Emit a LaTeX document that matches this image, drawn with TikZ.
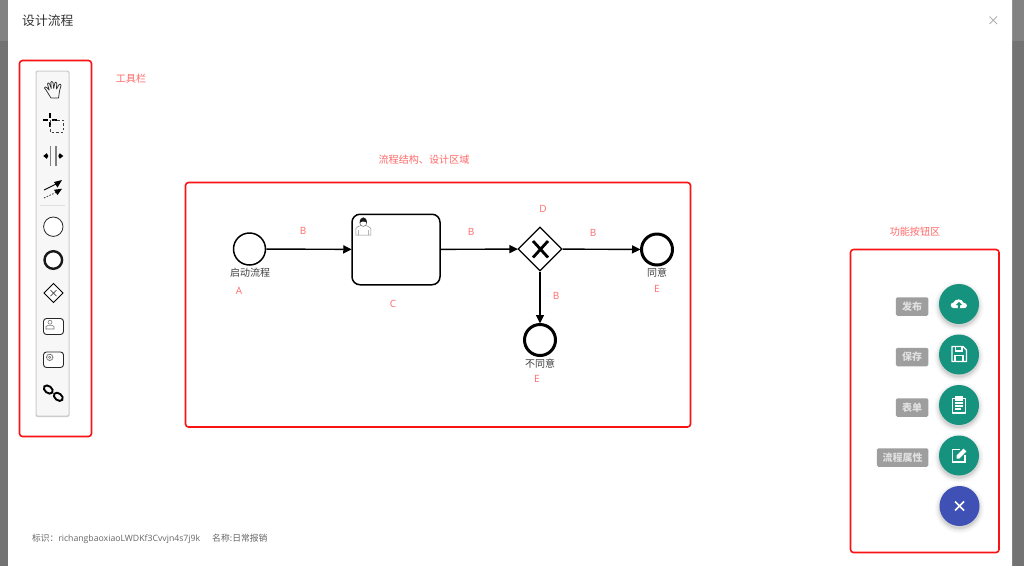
\documentclass[tikz,border=0pt]{standalone}
\usepackage{fontspec}
\setmainfont{Open Sans}
\newfontfamily\cjk{Noto Sans CJK SC}
\usetikzlibrary{arrows.meta,shapes.geometric}
\definecolor{teal1}{HTML}{16937F}
\definecolor{blue1}{HTML}{3F51B5}
\definecolor{note}{HTML}{FF6A6A}
\definecolor{redbox}{HTML}{F81414}
\tikzset{
  redframe/.style={draw=redbox,line width=1.6pt,rounded corners=3pt},
  note/.style={text=note,font=\cjk\fontsize{10.1}{12}\selectfont,inner sep=0pt,yshift=-.8pt},
  latin/.style={text=note,font=\fontsize{10}{12}\selectfont,inner sep=0pt},
  bpmnlabel/.style={text=black!75,font=\cjk\fontsize{10}{12}\selectfont,inner sep=0pt,yshift=-.8pt},
  flow/.style={draw=black,line width=1.4pt,-{Triangle[length=8.5pt,width=8pt]},shorten >=-0.5pt},
  startev/.style={circle,draw=black,line width=1.5pt,fill=white,minimum size=32pt,inner sep=0pt},
  endev/.style={circle,draw=black,line width=3pt,fill=white,minimum size=31pt,inner sep=0pt},
  fab/.style={circle,fill=teal1,minimum size=40pt,inner sep=0pt},
  fabblue/.style={circle,fill=blue1,minimum size=40pt,inner sep=0pt},
  tip/.style={fill=black!38,rounded corners=1.5pt,text=white!88!black,font=\cjk\bfseries\fontsize{10}{12}\selectfont,minimum height=18.5pt,inner sep=0pt,anchor=east},
  wic/.style={draw=white,line width=1.3pt},
}
\newcommand{\softshadow}[2]{%
  \foreach \k/\o in {25/.015,24/.02,23/.025,22/.03,21/.04,20.3/.05}{\fill[black,opacity=\o] (#1,#2+2.5) circle (\k);}}
\begin{document}
\begin{tikzpicture}[x=1pt,y=-1pt]
\useasboundingbox (0,0) rectangle (1024,566);
% backdrop and dialog
\fill[black!55] (0,0) rectangle (1024,566);
\fill[black!49] (0,0) rectangle (1024,41);
\fill[white,rounded corners=3pt] (8,-6) rectangle (1012,572);
% header
\node[anchor=west,inner sep=0pt,text=black!80,font=\cjk\fontsize{12.8}{15}\selectfont,yshift=-.8pt] (title) at (22,20) {设计流程};
\draw[black!30,line width=1pt] (989.5,16.5) -- (997,24) (997,16.5) -- (989.5,24);
% red frames
\draw[redframe] (19.5,60.5) rectangle (91.5,436.5);
\draw[redframe] (185.5,182.5) rectangle (690.5,427);
\draw[redframe] (850.5,249.5) rectangle (999,552.5);
\node[note] (n1) at (131,78) {工具栏};
\node[note] (n2) at (424,159) {流程结构、设计区域};
\node[note] (n3) at (915,231) {功能按钮区};
% toolbar
\fill[black!20,rounded corners=2pt] (35.5,70.5) rectangle (69.5,417);
\fill[black!3,rounded corners=1.5pt] (36.5,71.5) rectangle (68.5,415.5);
\draw[black!12,line width=.7pt] (40,205) -- (65,205);
% hand
\begin{scope}[shift={(54,90)},black!80,line width=.75pt,line join=round]
  \draw (-3,8) .. controls (-5,5) and (-7,1) .. (-9.5,-2) .. controls (-10,-3.5) and (-8,-3.5) .. (-7,-2.3) -- (-4.8,0)
     -- (-6.5,-6) .. controls (-6.8,-7.5) and (-5,-7.5) .. (-4.5,-6.2) -- (-2.7,-1.5)
     -- (-3.2,-7.5) .. controls (-3.2,-9) and (-1.3,-9) .. (-1,-7.5) -- (-.3,-1.5)
     -- (0.8,-7) .. controls (1.1,-8.5) and (2.8,-8) .. (2.7,-6.6) -- (2.5,-1)
     -- (5,-5.3) .. controls (5.6,-6.5) and (7.5,-5.7) .. (7,-4.4) -- (5.5,1) .. controls (5,4) and (5,6) .. (4.5,8) -- cycle;
\end{scope}
% lasso
\begin{scope}[shift={(50,120)}]
  \draw[black,line width=1.5pt] (-7,0) -- (-2,0) (2,0) -- (7,0) (0,-7) -- (0,-2) (0,2) -- (0,7);
  \draw[black!75,line width=.8pt,dash pattern=on 2.5pt off 2pt] (0,0) -- (0,12) -- (13,12) -- (13,0) -- (4,0);
\end{scope}
% space tool
\begin{scope}[shift={(53.3,156)}]
  \draw[black!50,line width=1.6pt] (-2.7,-10) -- (-2.7,10) (2.7,-10) -- (2.7,10);
  \draw[black,line width=.9pt] (-6,0) -- (-9,0) (6,0) -- (9,0);
  \fill[black] (-10,0) -- (-6.5,-2.8) -- (-5,0) -- (-6.5,2.8) -- cycle (10,0) -- (6.5,-2.8) -- (5,0) -- (6.5,2.8) -- cycle;
\end{scope}
% connect tool
\begin{scope}[shift={(53,189)}]
  \draw[black,line width=.9pt] (-9,1) -- (5,-6);
  \fill[black] (9,-9) -- (1,-7) -- (4.5,-1.5) -- cycle;
  \draw[black!80,line width=.8pt,dash pattern=on 1.5pt off 1.5pt] (-9,9) -- (5,2.5);
  \fill[black] (9,-.3) -- (1,.8) -- (4.5,6) -- cycle;
\end{scope}
\draw[black!85,line width=.8pt,fill=white] (53.3,226.7) circle (9.7);
\draw[black!90,line width=2.4pt,fill=white] (53.3,260) circle (8.8);
\begin{scope}[shift={(53.5,293)}]
  \draw[black,line width=.9pt,fill=white] (-9.5,0) -- (0,-9.5) -- (9.5,0) -- (0,9.5) -- cycle;
  \draw[black!70,line width=.7pt] (-3,-3) -- (3,3) (-3,3) -- (3,-3);
\end{scope}
\draw[black!85,line width=.9pt,fill=white,rounded corners=3pt] (43.5,318.5) rectangle (63.5,334.5);
\begin{scope}[shift={(50,325)},black!55,line width=.55pt]
  \draw (0,-2.8) circle (2);
  \draw (-4,4) -- (-4,1.6) -- (-2,0.4) -- (2,0.4) -- (4,1.6) -- (4,4) -- cycle;
\end{scope}
\draw[black!85,line width=.9pt,fill=white,rounded corners=3pt] (43.5,352) rectangle (63.5,367.5);
\begin{scope}[shift={(49.7,357.3)},black!55,line width=.5pt]
  \draw[dash pattern=on 1pt off .5pt,line width=1pt] (0,0) circle (3.2);
  \draw (0,0) circle (1.2);
\end{scope}
\begin{scope}[shift={(53.3,393)},black,line width=1.9pt]
  \draw[rotate around={-38:(-5,-3.5)}] (-5,-3.5) ellipse (5 and 3.4);
  \draw[rotate around={-38:(5,3.8)}] (5,3.8) ellipse (5 and 3.4);
\end{scope}
% process diagram
\node[startev] (start) at (249.5,249) {};
\node[draw=black,line width=1.5pt,rounded corners=8pt,fill=white,minimum width=88pt,minimum height=70.5pt,inner sep=0pt] (task) at (396,249.5) {};
\node[diamond,draw=black,line width=1.3pt,fill=white,minimum width=44pt,minimum height=44pt,inner sep=0pt,aspect=1] (gate) at (540,249) {};
\node[endev] (end1) at (657,249.5) {};
\node[endev] (end2) at (540,340) {};
\draw[flow] (start) -- (task);
\draw[flow] (task) -- (gate);
\draw[flow] (gate) -- (end1);
\draw[flow] (gate) -- (end2);
% gateway X
\draw[black,line width=2.8pt] (533,241) -- (548,257.5) (548,241) -- (533,257.5);
% user icon in task
\begin{scope}[shift={(363.3,226)}]
  \draw[black!45,line width=.5pt,fill=white] (-7.5,9) -- (-7.5,2.5) .. controls (-7,0.5) and (-4,0.5) .. (-3,-.3) -- (3,-.3) .. controls (4,0.5) and (7,0.5) .. (7.5,2.5) -- (7.5,9) -- cycle (-5,4) -- (-5,9) (5,4) -- (5,9);
  \draw[black!60,line width=.5pt,fill=white] (0,-3) circle (3.4);
  \fill[black!90] (-3.6,-3) .. controls (-3.8,-10.5) and (3.8,-10.5) .. (3.6,-3) .. controls (2.5,-5) and (-2.5,-5) .. (-3.6,-3) -- cycle;
\end{scope}
\node[bpmnlabel] (lbl1) at (250,272) {启动流程};
\node[bpmnlabel] (lbl2) at (657,272) {同意};
\node[bpmnlabel] (lbl3) at (540,363) {不同意};
\node[latin] (a) at (239,291) {A};
\node[latin] (b1) at (303,231) {B};
\node[latin] (c) at (393,304) {C};
\node[latin] (b2) at (471,232) {B};
\node[latin] (d) at (543,209) {D};
\node[latin] (b3) at (593,233) {B};
\node[latin] (b4) at (556,295.5) {B};
\node[latin] (e1) at (657,289) {E};
\node[latin] (e2) at (537,379) {E};
% action buttons
\softshadow{959}{304}\softshadow{959}{354.5}\softshadow{959}{405}\softshadow{959}{455.5}\softshadow{959.5}{506}
\node[fab] (f1) at (959,304) {};
\node[fab] (f2) at (959,354.5) {};
\node[fab] (f3) at (959,405) {};
\node[fab] (f4) at (959,455.5) {};
\node[fabblue] (f5) at (959.5,506) {};
\node[tip,minimum width=32.5pt] (t1) at (928.5,306.5) {发布};
\node[tip,minimum width=32.5pt] (t2) at (928.5,357) {保存};
\node[tip,minimum width=32.5pt] (t3) at (928.5,407.5) {表单};
\node[tip,minimum width=51.5pt] (t4) at (928.5,457.5) {流程属性};
% cloud upload
\begin{scope}[shift={(959,304)}]
  \fill[white] (-5,4.2) .. controls (-9,4.2) and (-9.5,-1.3) .. (-5.5,-1.5) .. controls (-4,-5.5) and (3,-5.8) .. (4.6,-1.3) .. controls (9,-1) and (8.8,4.2) .. (5,4.2) -- cycle;
  \fill[teal1] (0,-2.2) -- (-3.2,1) -- (-1.2,1) -- (-1.2,4.4) -- (1.2,4.4) -- (1.2,1) -- (3.2,1) -- cycle;
\end{scope}
% floppy
\begin{scope}[shift={(959,354)}]
  \draw[wic,line join=round] (-7,-7.5) -- (4,-7.5) -- (7.5,-4) -- (7.5,7.5) -- (-7,7.5) -- cycle;
  \draw[wic] (-3.6,-7.5) -- (-3.6,-3) -- (3,-3) -- (3,-7.5) (-4,7.5) -- (-4,1.5) -- (4,1.5) -- (4,7.5);
\end{scope}
% clipboard
\begin{scope}[shift={(959,405)}]
  \draw[wic,line join=round] (-3.5,-6.8) -- (-6.5,-6.8) -- (-6.5,8) -- (6.5,8) -- (6.5,-6.8) -- (3.5,-6.8);
  \fill[white] (-3.7,-8.7) rectangle (3.7,-4.3);
  \draw[white,line width=1.1pt] (-3.8,-2) -- (3.5,-2) (-3.8,1) -- (3.8,1) (-3.8,4) -- (1.5,4);
\end{scope}
% edit
\begin{scope}[shift={(959,455.5)}]
  \draw[wic,line width=1.5pt] (1,-5.8) -- (-6.3,-5.8) -- (-6.3,6.5) -- (6,6.5) -- (6,-.5);
  \fill[white] (-2.5,3) -- (-2.5,.2) -- (4.5,-6.8) -- (7.3,-4) -- (.3,3) -- cycle;
\end{scope}
% close
\draw[white,line width=1.7pt] (955,501.5) -- (964,510.5) (964,501.5) -- (955,510.5);
% footer
\node[anchor=west,inner sep=0pt,text=black!60,font=\fontsize{8.7}{11}\selectfont,yshift=-.5pt] (id) at (32,538) {{\cjk 标识：}richangbaoxiaoLWDKf3Cvvjn4s7j9k};
\node[anchor=west,inner sep=0pt,text=black!60,font=\cjk\fontsize{8.8}{11}\selectfont,yshift=-.5pt] (nm) at (212,538) {名称:日常报销};
\end{tikzpicture}
\end{document}
